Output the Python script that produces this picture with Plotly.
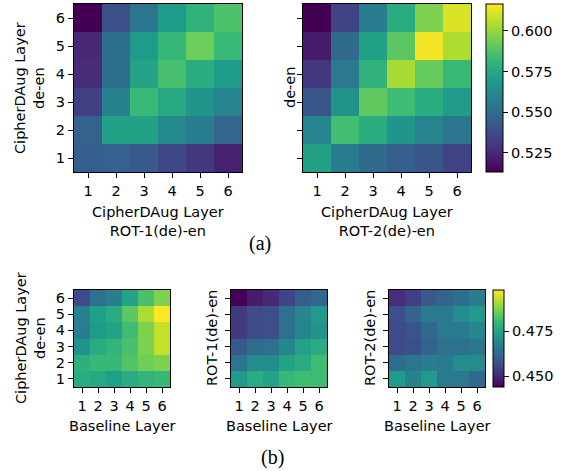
import plotly.graph_objects as go

W, H = 572, 471
layers = [1, 2, 3, 4, 5, 6]
tick_labels = ["1", "2", "3", "4", "5", "6"]

# rows: y-layer 1..6 (bottom to top), columns: x-layer 1..6
rot1_vs_de = [
    [0.544, 0.545, 0.542, 0.536, 0.530, 0.523],
    [0.546, 0.572, 0.572, 0.562, 0.557, 0.547],
    [0.533, 0.559, 0.583, 0.575, 0.567, 0.560],
    [0.526, 0.551, 0.573, 0.586, 0.577, 0.570],
    [0.525, 0.551, 0.570, 0.582, 0.593, 0.583],
    [0.513, 0.539, 0.554, 0.570, 0.580, 0.587],
]
rot2_vs_de = [
    [0.572, 0.556, 0.549, 0.544, 0.541, 0.534],
    [0.560, 0.585, 0.577, 0.567, 0.560, 0.554],
    [0.541, 0.566, 0.591, 0.584, 0.577, 0.569],
    [0.530, 0.555, 0.580, 0.603, 0.592, 0.583],
    [0.521, 0.549, 0.572, 0.590, 0.615, 0.604],
    [0.513, 0.534, 0.556, 0.577, 0.596, 0.611],
]
de_vs_base = [
    [0.477, 0.476, 0.474, 0.477, 0.479, 0.480],
    [0.478, 0.480, 0.480, 0.483, 0.486, 0.487],
    [0.472, 0.477, 0.479, 0.482, 0.487, 0.493],
    [0.467, 0.473, 0.475, 0.481, 0.487, 0.493],
    [0.468, 0.474, 0.477, 0.484, 0.491, 0.498],
    [0.456, 0.464, 0.467, 0.475, 0.482, 0.487],
]
rot1_vs_base = [
    [0.473, 0.477, 0.475, 0.480, 0.481, 0.481],
    [0.465, 0.470, 0.470, 0.475, 0.477, 0.481],
    [0.459, 0.463, 0.464, 0.469, 0.475, 0.477],
    [0.453, 0.456, 0.457, 0.464, 0.469, 0.472],
    [0.453, 0.456, 0.457, 0.464, 0.469, 0.473],
    [0.444, 0.448, 0.450, 0.455, 0.460, 0.462],
]
rot2_vs_base = [
    [0.473, 0.468, 0.473, 0.466, 0.466, 0.462],
    [0.463, 0.465, 0.467, 0.466, 0.470, 0.470],
    [0.456, 0.457, 0.461, 0.464, 0.464, 0.465],
    [0.456, 0.458, 0.462, 0.466, 0.466, 0.469],
    [0.457, 0.461, 0.466, 0.466, 0.470, 0.473],
    [0.451, 0.454, 0.459, 0.461, 0.463, 0.467],
]
top_cbar_ticks = [0.525, 0.550, 0.575, 0.600]
bot_cbar_ticks = [0.450, 0.475]

FONT = "DejaVu Sans"
FS = 14.5

def px(x):
    return x / W

def py(y):
    return 1 - y / H

fig = go.Figure()

panels = [
    # (z, coloraxis, x0, x1, y0, y1, show y tick labels)
    (rot1_vs_de, "coloraxis", 74, 242, 4, 172, True),
    (rot2_vs_de, "coloraxis", 303, 471, 4, 172, False),
    (de_vs_base, "coloraxis2", 74, 170, 290, 387, True),
    (rot1_vs_base, "coloraxis2", 231, 327, 290, 387, False),
    (rot2_vs_base, "coloraxis2", 389, 485, 290, 387, False),
]

for i, (z, ca, x0, x1, y0, y1, showy) in enumerate(panels):
    n = "" if i == 0 else str(i + 1)
    fig.add_trace(go.Heatmap(z=z, x=layers, y=layers, coloraxis=ca,
                             xaxis="x" + n, yaxis="y" + n))
    axcommon = dict(range=[0.5, 6.5], tickvals=layers, ticktext=tick_labels,
                    showline=True, linecolor="black", linewidth=1.2, mirror=True,
                    ticks="outside", ticklen=5, tickwidth=1.2, tickcolor="black",
                    showgrid=False, zeroline=False,
                    tickfont=dict(family=FONT, size=FS, color="black"))
    fig.update_layout(**{
        "xaxis" + n: dict(domain=[px(x0), px(x1)], anchor="y" + n, **axcommon),
        "yaxis" + n: dict(domain=[py(y1), py(y0)], anchor="x" + n,
                          showticklabels=showy, **axcommon),
    })

cbar_common = dict(thickness=17, thicknessmode="pixels", lenmode="pixels",
                   xanchor="left", yanchor="top", xpad=0, ypad=0,
                   outlinecolor="black", outlinewidth=1,
                   ticks="outside", ticklen=5, tickcolor="black",
                   tickfont=dict(family=FONT, size=FS, color="black"))

fig.update_layout(
    width=W, height=H,
    margin=dict(l=0, r=0, t=0, b=0),
    paper_bgcolor="white", plot_bgcolor="white",
    coloraxis=dict(colorscale="Viridis", cmin=0.5133, cmax=0.6165,
                   colorbar=dict(x=px(486), y=py(4), len=168,
                                 tickvals=top_cbar_ticks,
                                 ticktext=[f"{v:.3f}" for v in top_cbar_ticks],
                                 **cbar_common)),
    coloraxis2=dict(colorscale="Viridis", cmin=0.4439, cmax=0.4978,
                    colorbar=dict(x=px(493), y=py(290), len=97,
                                  tickvals=bot_cbar_ticks,
                                  ticktext=[f"{v:.3f}" for v in bot_cbar_ticks],
                                  **dict(cbar_common, thickness=11))),
    showlegend=False,
)

def ann(text, x, y, angle=0, size=FS, family=FONT):
    fig.add_annotation(text=text, x=px(x), y=py(y), xref="paper", yref="paper",
                       showarrow=False, textangle=angle, xanchor="center",
                       yanchor="middle",
                       font=dict(family=family, size=size, color="black"))

# top row labels
ann("CipherDAug Layer<br>ROT-1(de)-en", 158, 221)
ann("CipherDAug Layer<br>ROT-2(de)-en", 387, 221)
ann("CipherDAug Layer<br>de-en", 30, 88, angle=-90)
ann("de-en", 290, 88, angle=-90)
ann("(a)", 260, 243, size=20, family="Liberation Serif")

# bottom row labels
ann("Baseline Layer", 122, 426)
ann("Baseline Layer", 279, 426)
ann("Baseline Layer", 437, 426)
ann("CipherDAug Layer<br>de-en", 30, 338, angle=-90)
ann("ROT-1(de)-en", 212, 338, angle=-90)
ann("ROT-2(de)-en", 370, 338, angle=-90)
ann("(b)", 272, 457, size=20, family="Liberation Serif")

fig.write_html("out.html", config={"displayModeBar": False},
               post_script="document.body.style.margin='0';document.body.style.padding='0';")
